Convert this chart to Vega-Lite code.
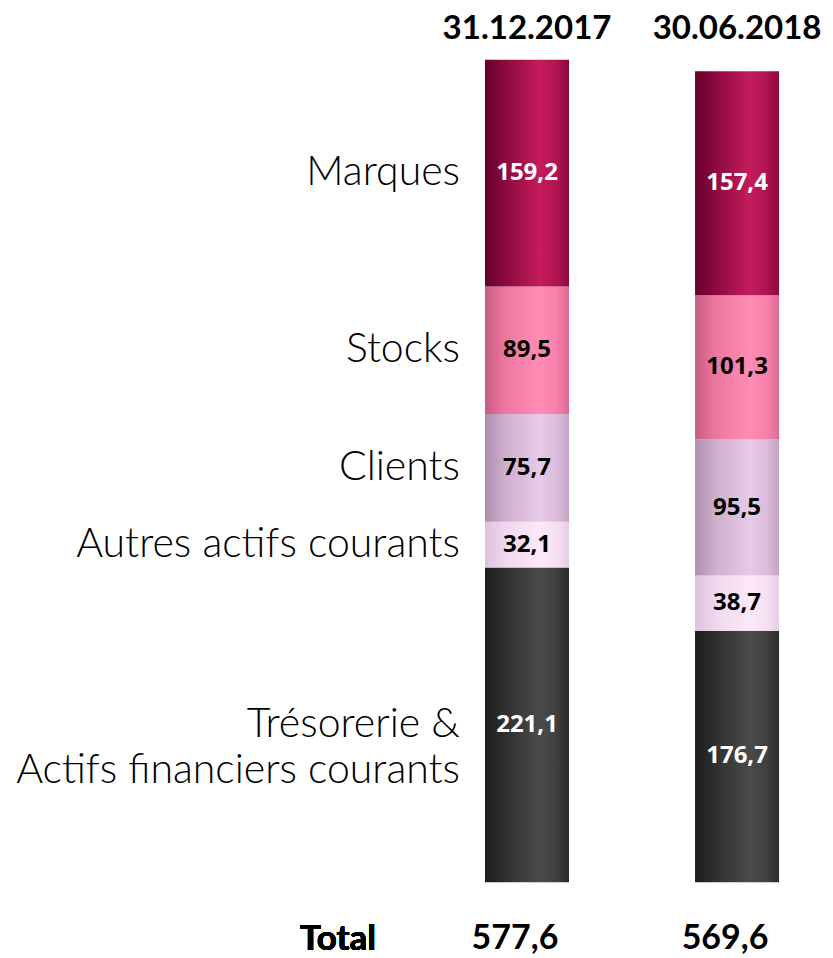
{
  "$schema": "https://vega.github.io/schema/vega-lite/v6.json",
  "width": 833,
  "height": 958,
  "autosize": {"type": "fit", "contains": "padding"},
  "padding": 0,
  "background": "white",
  "config": {
    "view": {"stroke": null},
    "locale": {"number": {"decimal": ",", "thousands": " ", "grouping": [3], "currency": ["", " €"]}}
  },
  "data": {
    "values": [
      {"date": "31.12.2017", "cat": "Trésorerie &\nActifs financiers courants", "key": "T", "order": 1, "value": 221.1},
      {"date": "31.12.2017", "cat": "Autres actifs courants", "key": "A", "order": 2, "value": 32.1},
      {"date": "31.12.2017", "cat": "Clients", "key": "C", "order": 3, "value": 75.7},
      {"date": "31.12.2017", "cat": "Stocks", "key": "S", "order": 4, "value": 89.5},
      {"date": "31.12.2017", "cat": "Marques", "key": "M", "order": 5, "value": 159.2},
      {"date": "30.06.2018", "cat": "Trésorerie &\nActifs financiers courants", "key": "T", "order": 1, "value": 176.7},
      {"date": "30.06.2018", "cat": "Autres actifs courants", "key": "A", "order": 2, "value": 38.7},
      {"date": "30.06.2018", "cat": "Clients", "key": "C", "order": 3, "value": 95.5},
      {"date": "30.06.2018", "cat": "Stocks", "key": "S", "order": 4, "value": 101.3},
      {"date": "30.06.2018", "cat": "Marques", "key": "M", "order": 5, "value": 157.4}
    ]
  },
  "encoding": {
    "x": {
      "field": "date", "type": "nominal",
      "scale": {"domain": ["Total", "31.12.2017", "30.06.2018"], "paddingInner": 0.6, "paddingOuter": 0.783, "align": 0.836},
      "axis": null
    }
  },
  "layer": [
    {
      "transform": [
        {"stack": "value", "groupby": ["date"], "sort": [{"field": "order"}], "as": ["v0", "v1"]}
      ],
      "mark": {"type": "bar", "strokeWidth": 0},
      "encoding": {
        "y": {"field": "v0", "type": "quantitative", "scale": {"domain": [-51.1, 619.6], "nice": false, "zero": false}, "axis": null},
        "y2": {"field": "v1"},
        "fill": {
          "condition": [
            {"test": "datum.key === 'M'", "value": {"gradient": "linear", "x1": 0, "x2": 1, "y1": 0, "y2": 0, "stops": [
              {"offset": 0, "color": "#66002a"}, {"offset": 0.25, "color": "#8e0a3e"}, {"offset": 0.65, "color": "#c41c5c"}, {"offset": 0.85, "color": "#b01450"}, {"offset": 1, "color": "#8a0a3c"}]}},
            {"test": "datum.key === 'S'", "value": {"gradient": "linear", "x1": 0, "x2": 1, "y1": 0, "y2": 0, "stops": [
              {"offset": 0, "color": "#c85c84"}, {"offset": 0.25, "color": "#ec78a0"}, {"offset": 0.65, "color": "#ff8cb4"}, {"offset": 0.85, "color": "#f880aa"}, {"offset": 1, "color": "#dc6c94"}]}},
            {"test": "datum.key === 'C'", "value": {"gradient": "linear", "x1": 0, "x2": 1, "y1": 0, "y2": 0, "stops": [
              {"offset": 0, "color": "#ad8fad"}, {"offset": 0.25, "color": "#cfb0cf"}, {"offset": 0.65, "color": "#e6cae6"}, {"offset": 0.85, "color": "#dcbcdc"}, {"offset": 1, "color": "#c4a4c4"}]}},
            {"test": "datum.key === 'A'", "value": {"gradient": "linear", "x1": 0, "x2": 1, "y1": 0, "y2": 0, "stops": [
              {"offset": 0, "color": "#dcc2dc"}, {"offset": 0.25, "color": "#f0d8ee"}, {"offset": 0.65, "color": "#fce8f8"}, {"offset": 0.85, "color": "#f6e0f2"}, {"offset": 1, "color": "#e6cee4"}]}}
          ],
          "value": {"gradient": "linear", "x1": 0, "x2": 1, "y1": 0, "y2": 0, "stops": [
            {"offset": 0, "color": "#1c1c1c"}, {"offset": 0.25, "color": "#303030"}, {"offset": 0.65, "color": "#4a4a4a"}, {"offset": 0.85, "color": "#404040"}, {"offset": 1, "color": "#2a2a2a"}]}
        }
      }
    },
    {
      "transform": [
        {"stack": "value", "groupby": ["date"], "sort": [{"field": "order"}], "as": ["v0", "v1"]},
        {"calculate": "(datum.v0 + datum.v1) / 2", "as": "mid"}
      ],
      "mark": {"type": "text", "font": "Open Sans", "fontWeight": "bold", "fontSize": 24, "baseline": "middle", "align": "center"},
      "encoding": {
        "y": {"field": "mid", "type": "quantitative"},
        "text": {"field": "value", "type": "quantitative", "format": ".1f"},
        "color": {"condition": {"test": "datum.key === 'M' || datum.key === 'T'", "value": "white"}, "value": "black"}
      }
    },
    {
      "transform": [
        {"filter": "datum.date === '31.12.2017'"},
        {"stack": "value", "groupby": ["date"], "sort": [{"field": "order"}], "as": ["v0", "v1"]},
        {"calculate": "(datum.v0 + datum.v1) / 2", "as": "mid"}
      ],
      "mark": {"type": "text", "font": "Lato", "fontWeight": 300, "fontSize": 41, "baseline": "middle", "align": "right", "dx": -67, "lineBreak": "\n", "lineHeight": 46, "color": "black"},
      "encoding": {
        "y": {"field": "mid", "type": "quantitative"},
        "text": {"field": "cat"}
      }
    },
    {
      "transform": [{"aggregate": [{"op": "sum", "field": "value", "as": "total"}], "groupby": ["date"]}],
      "mark": {"type": "text", "font": "Lato", "fontWeight": "bold", "fontSize": 33, "baseline": "middle", "align": "center", "color": "black"},
      "encoding": {
        "y": {"datum": 599.3},
        "text": {"field": "date"}
      }
    },
    {
      "transform": [{"aggregate": [{"op": "sum", "field": "value", "as": "total"}], "groupby": ["date"]}],
      "mark": {"type": "text", "font": "Lato", "fontWeight": "bold", "fontSize": 34, "baseline": "middle", "align": "center", "dx": -12, "color": "black"},
      "encoding": {
        "y": {"datum": -39.9},
        "text": {"field": "total", "type": "quantitative", "format": ".1f"}
      }
    },
    {
      "mark": {"type": "text", "font": "Lato", "fontWeight": "bold", "fontSize": 35, "baseline": "middle", "align": "center", "dx": 21, "color": "black"},
      "encoding": {
        "x": {"datum": "Total"},
        "y": {"datum": -39.9},
        "text": {"value": "Total"}
      }
    }
  ]
}
